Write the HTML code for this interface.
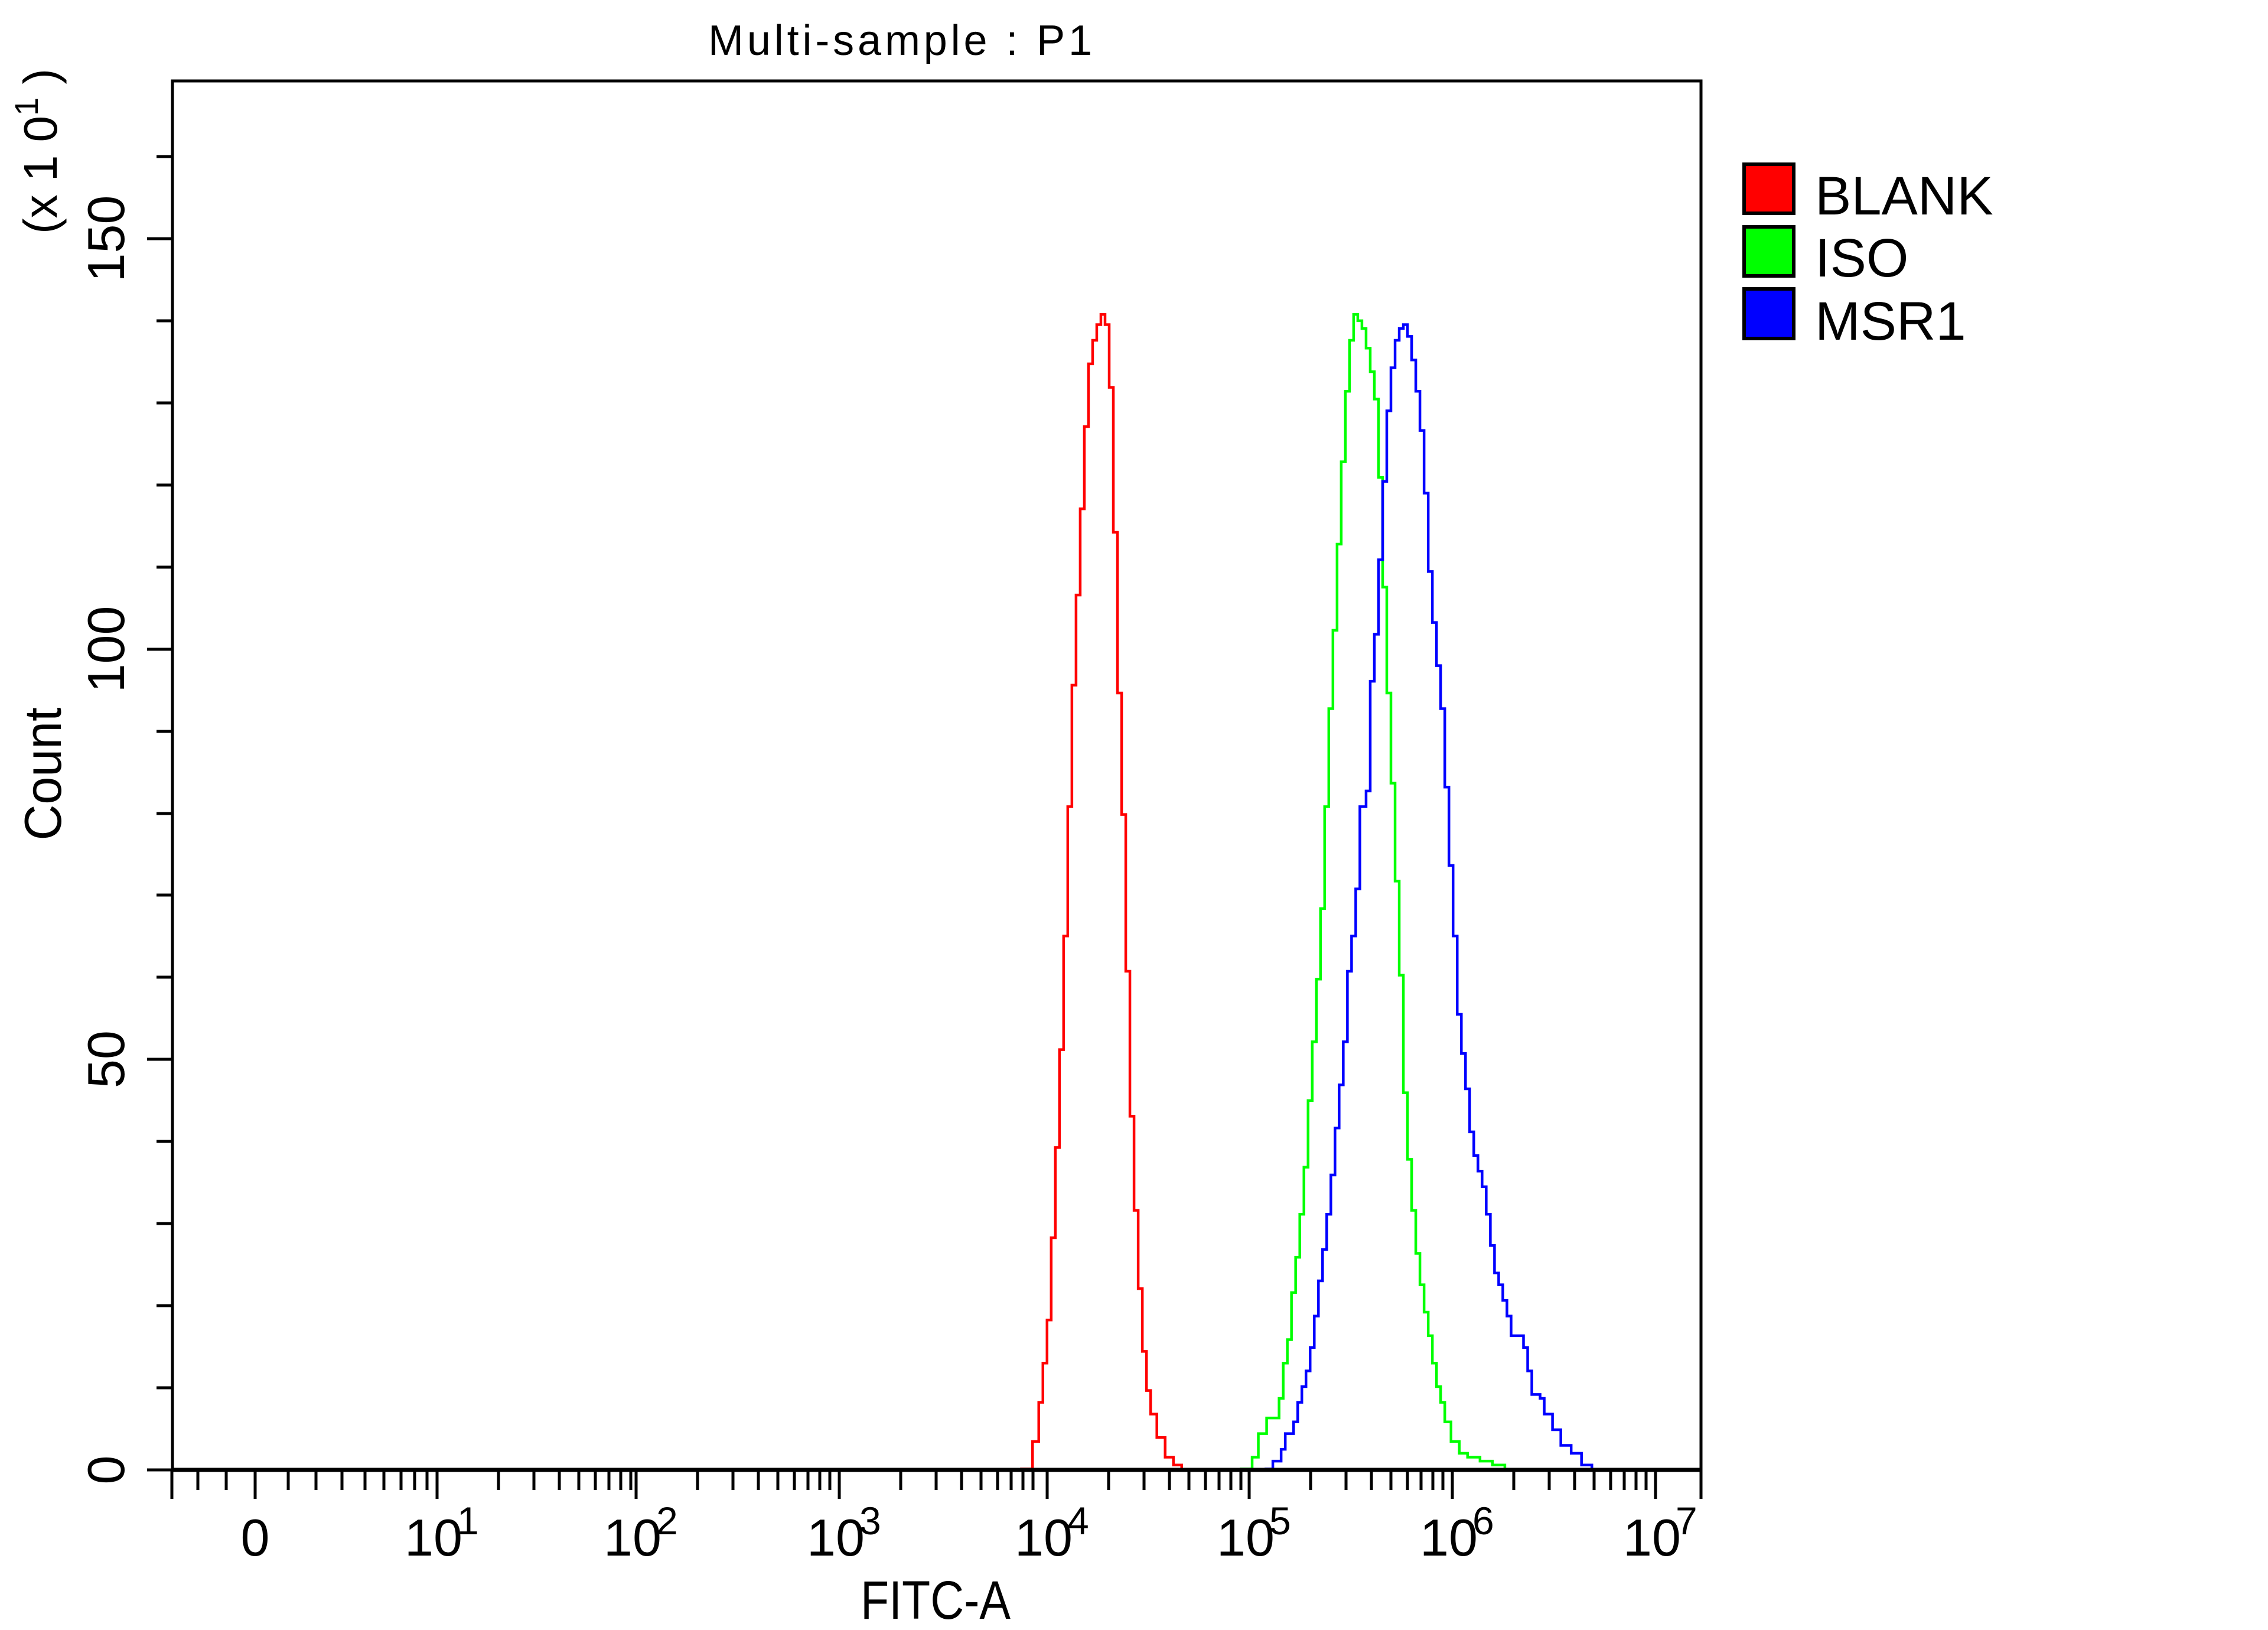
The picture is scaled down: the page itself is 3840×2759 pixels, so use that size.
<!DOCTYPE html>
<html><head><meta charset="utf-8"><style>html,body{margin:0;padding:0;background:#fff}svg{display:block}</style></head>
<body>
<svg width="3840" height="2759" viewBox="0 0 3840 2759" xmlns="http://www.w3.org/2000/svg" font-family="Liberation Sans, sans-serif">
<rect width="3840" height="2759" fill="#fff"/>
<text x="1524" y="93" font-size="72" text-anchor="middle" textLength="650">Multi-sample : P1</text>
<rect x="292" y="137" width="2588" height="2351" fill="none" stroke="#000" stroke-width="5"/>
<g transform="translate(1650,450) scale(0.70151,1.32661)" fill="none" stroke-width="4.5" stroke-linejoin="miter">
<path vector-effect="non-scaling-stroke" stroke="#ff0000" d="M110 1535 H140 V1500 H155 V1450 H165 V1400 H175 V1345 H185 V1240 H195 V1125 H205 V1000 H215 V855 H225 V690 H235 V535 H245 V420 H255 V310 H265 V205 H275 V125 H285 V95 H295 V75 H305 V62 H315 V75 H325 V155 H335 V340 H345 V545 H355 V700 H365 V900 H375 V1085 H385 V1205 H395 V1305 H405 V1385 H415 V1435 H425 V1465 H440 V1495 H460 V1520 H480 V1530 H500 V1535"/>
<path vector-effect="non-scaling-stroke" stroke="#00ff00" d="M640 1535 H670 V1520 H685 V1490 H705 V1470 H735 V1445 H745 V1400 H755 V1370 H765 V1310 H775 V1265 H785 V1210 H795 V1150 H805 V1065 H815 V990 H825 V910 H835 V820 H845 V690 H855 V565 H865 V465 H875 V355 H885 V250 H895 V160 H905 V95 H915 V62 H925 V70 H935 V80 H945 V105 H955 V135 H965 V170 H975 V270 H985 V410 H995 V545 H1005 V660 H1015 V785 H1025 V905 H1035 V1055 H1045 V1140 H1055 V1205 H1065 V1260 H1075 V1300 H1085 V1335 H1095 V1365 H1105 V1400 H1115 V1430 H1125 V1450 H1135 V1475 H1150 V1500 H1170 V1515 H1190 V1520 H1220 V1525 H1250 V1530 H1280 V1535"/>
<path vector-effect="non-scaling-stroke" stroke="#0000ff" d="M700 1535 H720 V1525 H740 V1510 H750 V1490 H770 V1475 H780 V1450 H790 V1430 H800 V1410 H810 V1380 H820 V1340 H830 V1295 H840 V1255 H850 V1210 H860 V1160 H870 V1100 H880 V1045 H890 V990 H900 V900 H910 V855 H920 V795 H930 V690 H945 V670 H955 V530 H965 V470 H975 V375 H985 V275 H995 V185 H1005 V130 H1015 V95 H1025 V80 H1035 V75 H1045 V90 H1055 V120 H1065 V160 H1075 V210 H1085 V290 H1095 V390 H1105 V455 H1115 V510 H1125 V565 H1135 V665 H1145 V765 H1155 V855 H1165 V955 H1175 V1005 H1185 V1050 H1195 V1105 H1205 V1135 H1215 V1155 H1225 V1175 H1235 V1210 H1245 V1250 H1255 V1285 H1265 V1300 H1275 V1320 H1285 V1340 H1295 V1365 H1325 V1380 H1335 V1410 H1345 V1440 H1365 V1445 H1375 V1465 H1395 V1485 H1415 V1505 H1440 V1515 H1465 V1530 H1490 V1535"/>
</g>
<line x1="292" y1="2488" x2="2880" y2="2488" stroke="#000" stroke-width="7"/>
<path stroke="#000" stroke-width="5" fill="none" d="
M291 2488V2537 M432 2488V2537 M740 2488V2537 M1077 2488V2537 M1421 2488V2537 M1773 2488V2537 M2115 2488V2537 M2459 2488V2537 M2803 2488V2537 M2880 2488V2537
M335 2488V2522 M383 2488V2522
M488 2488V2522 M535 2488V2522 M579 2488V2522 M618 2488V2522 M650 2488V2522 M679 2488V2522 M702 2488V2522 M723 2488V2522
M844 2488V2522 M904 2488V2522 M947 2488V2522 M980 2488V2522 M1008 2488V2522 M1031 2488V2522 M1051 2488V2522 M1068 2488V2522
M1181 2488V2522 M1241 2488V2522 M1284 2488V2522 M1317 2488V2522 M1345 2488V2522 M1368 2488V2522 M1388 2488V2522 M1405 2488V2522
M1525 2488V2522 M1585 2488V2522 M1628 2488V2522 M1661 2488V2522 M1689 2488V2522 M1712 2488V2522 M1732 2488V2522 M1749 2488V2522
M1877 2488V2522 M1937 2488V2522 M1980 2488V2522 M2013 2488V2522 M2041 2488V2522 M2064 2488V2522 M2084 2488V2522 M2101 2488V2522
M2219 2488V2522 M2279 2488V2522 M2322 2488V2522 M2355 2488V2522 M2383 2488V2522 M2406 2488V2522 M2426 2488V2522 M2443 2488V2522
M2563 2488V2522 M2623 2488V2522 M2666 2488V2522 M2699 2488V2522 M2727 2488V2522 M2750 2488V2522 M2770 2488V2522 M2787 2488V2522"/>
<path stroke="#000" stroke-width="5" fill="none" d="
M249 2488H292 M249 1793H292 M249 1099H292 M249 404H292
M265 2349H292 M265 2210H292 M265 2071H292 M265 1932H292 M265 1654H292 M265 1515H292 M265 1377H292 M265 1238H292 M265 960H292 M265 821H292 M265 682H292 M265 543H292 M265 265H292"/>
<g font-size="88" text-anchor="middle">
<text x="432" y="2633">0</text>
<text x="734" y="2633">10</text>
<text x="1071" y="2633">10</text>
<text x="1415" y="2633">10</text>
<text x="1767" y="2633">10</text>
<text x="2109" y="2633">10</text>
<text x="2453" y="2633">10</text>
<text x="2797" y="2633">10</text>
</g>
<g font-size="66">
<text x="774" y="2597">1</text>
<text x="1111" y="2597">2</text>
<text x="1455" y="2597">3</text>
<text x="1807" y="2597">4</text>
<text x="2149" y="2597">5</text>
<text x="2493" y="2597">6</text>
<text x="2837" y="2597">7</text>
</g>
<text x="1584" y="2740" font-size="92" text-anchor="middle" textLength="254" lengthAdjust="spacingAndGlyphs">FITC-A</text>
<g font-size="88" text-anchor="middle">
<text transform="translate(210,2488) rotate(-90)">0</text>
<text transform="translate(210,1793) rotate(-90)">50</text>
<text transform="translate(210,1099) rotate(-90)">100</text>
<text transform="translate(210,404) rotate(-90)">150</text>
</g>
<text transform="translate(96,256) rotate(-90)" font-size="80" text-anchor="middle">(x 1 0<tspan font-size="56" dy="-32">1</tspan><tspan dy="32"> )</tspan></text>
<text transform="translate(103,1310) rotate(-90)" font-size="88" text-anchor="middle" textLength="225" lengthAdjust="spacingAndGlyphs">Count</text>
<g stroke="#000" stroke-width="6">
<rect x="2953" y="278" width="84" height="83" fill="#ff0000"/>
<rect x="2953" y="384" width="84" height="83" fill="#00ff00"/>
<rect x="2953" y="489" width="84" height="84" fill="#0000ff"/>
</g>
<g font-size="92">
<text x="3073" y="363">BLANK</text>
<text x="3073" y="468">ISO</text>
<text x="3073" y="575">MSR1</text>
</g>
</svg>
</body></html>
